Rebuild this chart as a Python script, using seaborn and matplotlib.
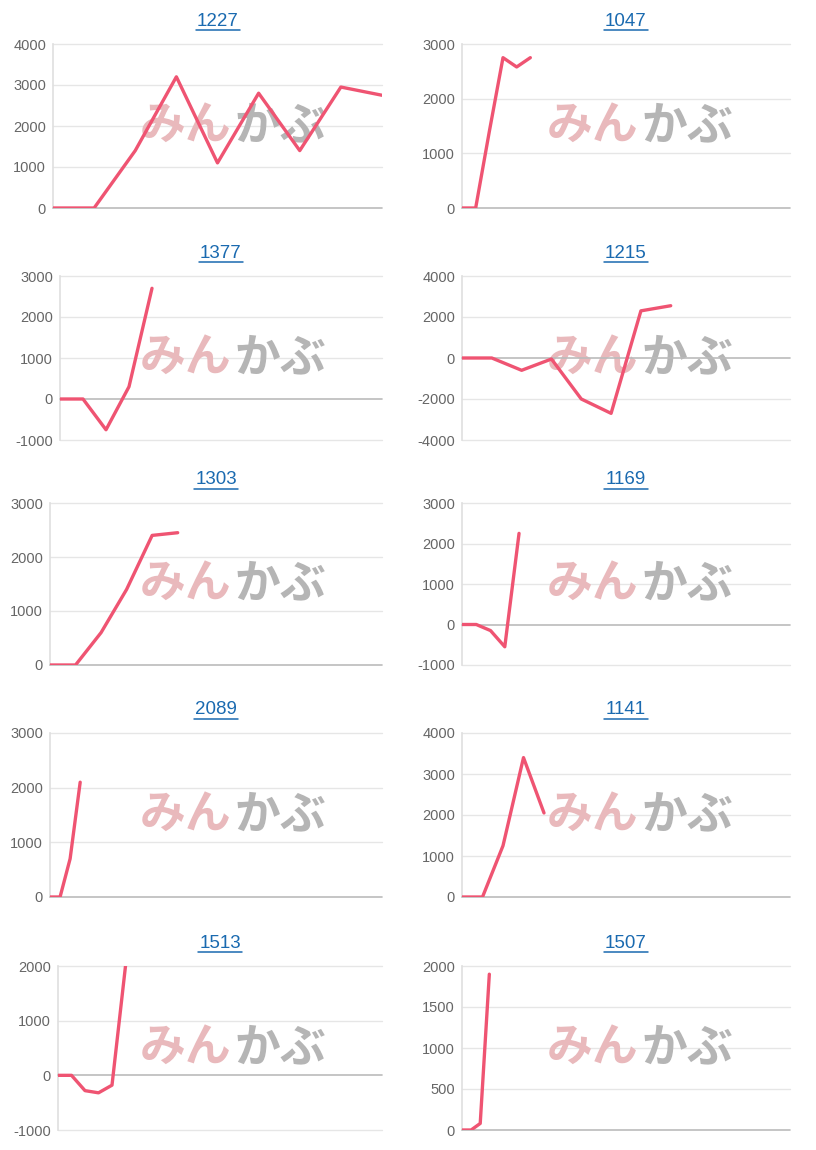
import matplotlib
matplotlib.use("Agg")
import matplotlib.pyplot as plt
from matplotlib.lines import Line2D
import seaborn as sns
import pandas as pd

sns.set_theme(style="white")
plt.rcParams['font.family'] = ['Noto Sans CJK JP', 'DejaVu Sans']

titles = ["1227", "1047", "1377", "1215", "1303", "1169", "2089", "1141", "1513", "1507"]
series = [
    [0, 0, 1400, 3200, 1100, 2800, 1400, 2950, 2750],
    [0, 0, 1400, 2750, 2580, 2750],
    [0, 0, -750, 300, 2700],
    [0, 0, -600, -50, -2000, -2700, 2300, 2550],
    [0, 0, 600, 1400, 2400, 2450],
    [0, 0, -150, -550, 2250],
    [0, 0, 700, 2100],
    [0, 0, 1250, 3400, 2050],
    [0, 0, -280, -320, -180, 2000],
    [0, 0, 80, 1900],
]
slots = [8, 24, 14, 11, 13, 23, 33, 16, 24, 36]
yticks = [
    [0, 1000, 2000, 3000, 4000],
    [0, 1000, 2000, 3000],
    [-1000, 0, 1000, 2000, 3000],
    [-4000, -2000, 0, 2000, 4000],
    [0, 1000, 2000, 3000],
    [-1000, 0, 1000, 2000, 3000],
    [0, 1000, 2000, 3000],
    [0, 1000, 2000, 3000, 4000],
    [-1000, 0, 1000, 2000],
    [0, 500, 1000, 1500, 2000],
]

W, H = 816, 1150
fig = plt.figure(figsize=(W / 100, H / 100), dpi=100)
tops = [44, 276, 503, 733, 966]
bots = [208, 440, 665, 897, 1130]
lefts = [[53, 462], [60, 462], [50, 462], [50, 462], [58, 462]]
rights = [382, 790]

for i, (t, vals) in enumerate(zip(titles, series)):
    r, c = divmod(i, 2)
    x0 = lefts[r][c]; x1 = rights[c]
    ax = fig.add_axes([x0 / W, 1 - bots[r] / H, (x1 - x0) / W, (bots[r] - tops[r]) / H])
    df = pd.DataFrame({"x": range(len(vals)), "y": vals})
    sns.lineplot(data=df, x="x", y="y", ax=ax, color="#ef5472", linewidth=2.4, zorder=4)
    yt = yticks[i]
    ax.set_ylim(yt[0], yt[-1])
    ax.set_xlim(0, slots[i])
    ax.set_yticks(yt)
    ax.set_yticklabels([str(v) for v in yt], fontsize=10.5, color="#666666",
                       family="Liberation Sans")
    ax.set_xticks([])
    ax.set_xlabel(""); ax.set_ylabel("")
    ax.tick_params(axis="y", length=0, pad=5)
    for v in yt:
        ax.axhline(v, color="#bbbbbb" if v == 0 else "#e6e6e6", lw=1.2 if v == 0 else 1.0,
                   zorder=3 if v == 0 else 1, clip_on=False)
    for s in ["top", "right", "bottom"]:
        ax.spines[s].set_visible(False)
    ax.spines["left"].set_color("#e0e0e0")
    # watermark
    cx = ((233 if c == 0 else 640) - x0) / (x1 - x0)
    ax.text(cx - 0.005, 0.5, "みん", transform=ax.transAxes, ha="right", va="center",
            fontsize=33, fontweight="bold", color="#e9b9bc", zorder=2)
    ax.text(cx + 0.005, 0.5, "かぶ", transform=ax.transAxes, ha="left", va="center",
            fontsize=33, fontweight="bold", color="#b5b5b5", zorder=2)
    # title with underline
    xm = (x0 + x1) / 2
    ty = tops[r] - 23
    fig.text(xm / W, 1 - ty / H, t, ha="center", va="center",
             fontsize=13.5, color="#1a6ab0", family="Liberation Sans")
    fig.add_artist(Line2D([(xm - 22) / W, (xm + 22) / W], [1 - (ty + 9) / H] * 2,
                          color="#1a6ab0", lw=1.1, transform=fig.transFigure))

fig.savefig("out.png", dpi=100, facecolor="white")
